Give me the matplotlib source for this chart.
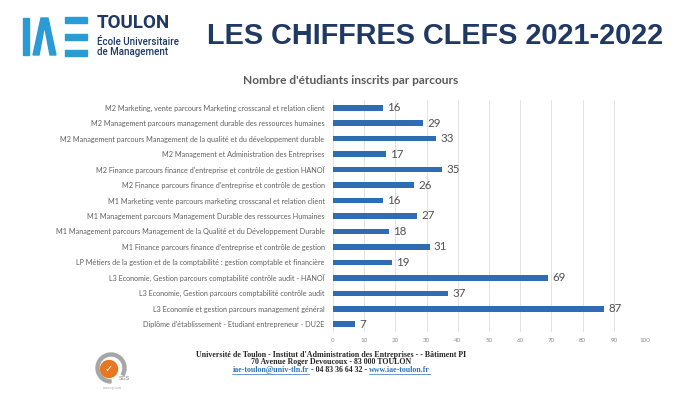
import matplotlib
matplotlib.use("Agg")
import matplotlib.pyplot as plt
from matplotlib.patches import Rectangle, Polygon, Circle, Wedge

categories = [
    "M2 Marketing, vente parcours Marketing crosscanal et relation client",
    "M2 Management parcours management durable des ressources humaines",
    "M2 Management parcours Management de la qualité et du développement durable",
    "M2 Management et Administration des Entreprises",
    "M2 Finance parcours finance d'entreprise et contrôle de gestion HANOÏ",
    "M2 Finance parcours finance d'entreprise et contrôle de gestion",
    "M1 Marketing vente parcours marketing crosscanal et relation client",
    "M1 Management parcours Management Durable des ressources Humaines",
    "M1 Management parcours Management de la Qualité et du Développement Durable",
    "M1 Finance parcours finance d'entreprise et contrôle de gestion",
    "LP Métiers de la gestion et de la comptabilité : gestion comptable et financière",
    "L3 Economie, Gestion parcours comptabilité contrôle audit - HANOÏ",
    "L3 Economie, Gestion parcours comptabilité contrôle audit",
    "L3 Economie et gestion parcours management général",
    "Diplôme d'établissement - Etudiant entrepreneur - DU2E",
]
values = [16, 29, 33, 17, 35, 26, 16, 27, 18, 31, 19, 69, 37, 87, 7]
xticks = [0, 10, 20, 30, 40, 50, 60, 70, 80, 90, 100]

W, H = 700, 394
fig = plt.figure(figsize=(7, 3.94), dpi=100)
fig.patch.set_facecolor("white")

def fx(px):
    return px / W

def fy(py):
    return 1 - py / H

# ---- Chart axes ----
ax = fig.add_axes([fx(333), fy(332), fx(645) - fx(333), fy(100) - fy(332)])
ypos = list(range(len(categories)))
ax.barh(ypos, values, height=0.36, color="#2E6DB4", zorder=3)
ax.set_ylim(len(categories) - 0.5, -0.5)
ax.set_xlim(0, 100)
ax.set_xticks(xticks)
ax.set_xticklabels([str(t) for t in xticks], fontsize=4.5, color="#8C8C8C", family="Lato")
ax.set_yticks(ypos)
ax.set_yticklabels(categories, fontsize=5.25, color="#606060", family="Lato")
ax.tick_params(axis="both", length=0)
ax.tick_params(axis="y", pad=6)
ax.tick_params(axis="x", pad=4)
ax.grid(axis="x", color="#E3E3E3", linewidth=0.7, zorder=0)
for s in ax.spines.values():
    s.set_visible(False)
for y, v in zip(ypos, values):
    ax.text(v + 1.3, y, str(v), va="center", ha="left", fontsize=8.3,
            color="#505050", family="Lato")

fig.text(fx(351), fy(80), "Nombre d'étudiants inscrits par parcours",
         ha="center", va="center", fontsize=8.6, color="#595959",
         family="Lato", fontweight="bold")

# ---- Decoration overlay in pixel units ----
ov = fig.add_axes([0, 0, 1, 1], zorder=-1)
ov.set_xlim(0, W)
ov.set_ylim(H, 0)
ov.axis("off")

navy = "#1F3864"
blue = "#2A9BD6"
ov.add_patch(Rectangle((23, 18), 6, 37, color=blue))
ov.add_patch(Polygon([[33, 55], [41, 18], [48, 18], [56, 55], [50, 55],
                      [44.5, 26], [39, 55]], closed=True, color=blue))
for yy in (20, 37, 53):
    ov.add_patch(Rectangle((65, yy - 3), 22, 6, color=blue))
fig.text(fx(97), fy(23), "TOULON", ha="left", va="center", fontsize=13.5,
         color=navy, family="Roboto", fontweight="bold")
fig.text(fx(97), fy(42), "École Universitaire", ha="left", va="center", fontsize=7,
         color=navy, family="Roboto", fontweight="medium")
fig.text(fx(97), fy(52), "de Management", ha="left", va="center", fontsize=7,
         color=navy, family="Roboto", fontweight="medium")

fig.text(fx(435), fy(36), "LES CHIFFRES CLEFS 2021-2022", ha="center", va="center",
         fontsize=20.8, color="#203864", family="Liberation Sans", fontweight="bold")

# ---- SGS logo ----
ov.add_patch(Wedge((111, 368), 15, 90, 390, width=3, color="#A6A6A6"))
ov.add_patch(Circle((109, 369), 8.5, color="#E87722"))
fig.text(fx(109), fy(369), "✓", ha="center", va="center", fontsize=7,
         color="white", family="DejaVu Sans", fontweight="bold")
fig.text(fx(124), fy(379), "SGS", ha="center", va="center", fontsize=3.8,
         color="#7F7F7F", family="Liberation Sans")
fig.text(fx(112), fy(388), "www.sgs.com", ha="center", va="center", fontsize=2.2,
         color="#A6A6A6", family="Liberation Sans")

# ---- Footer ----
fs = 5.7
fig.text(fx(331), fy(355),
         "Université de Toulon - Institut d'Administration des Entreprises - - Bâtiment PI",
         ha="center", va="center", fontsize=fs, color="#262626",
         family="Liberation Serif", fontweight="bold")
fig.text(fx(331), fy(362.5), "70 Avenue Roger Devoucoux - 83 000 TOULON",
         ha="center", va="center", fontsize=fs, color="#262626",
         family="Liberation Serif", fontweight="bold")
link_blue = "#2E74B5"
parts = [("iae-toulon@univ-tln.fr", link_blue, True),
         (" - 04 83 36 64 32 - ", "#262626", False),
         ("www.iae-toulon.fr", link_blue, True)]
renderer = fig.canvas.get_renderer()
texts = []
widths = []
for s, c, _ in parts:
    t = fig.text(0, fy(370), s, ha="left", va="center", fontsize=fs, color=c,
                 family="Liberation Serif", fontweight="bold")
    bb = t.get_window_extent(renderer=renderer)
    texts.append(t)
    widths.append(bb.width)
total = sum(widths)
x = 331 - total / 2
for t, w, (_, c, ul) in zip(texts, widths, parts):
    t.set_x(fx(x))
    if ul:
        ov.plot([x, x + w], [373.5, 373.5], color=c, linewidth=0.5)
    x += w

fig.savefig("out.png", dpi=100, facecolor="white")
